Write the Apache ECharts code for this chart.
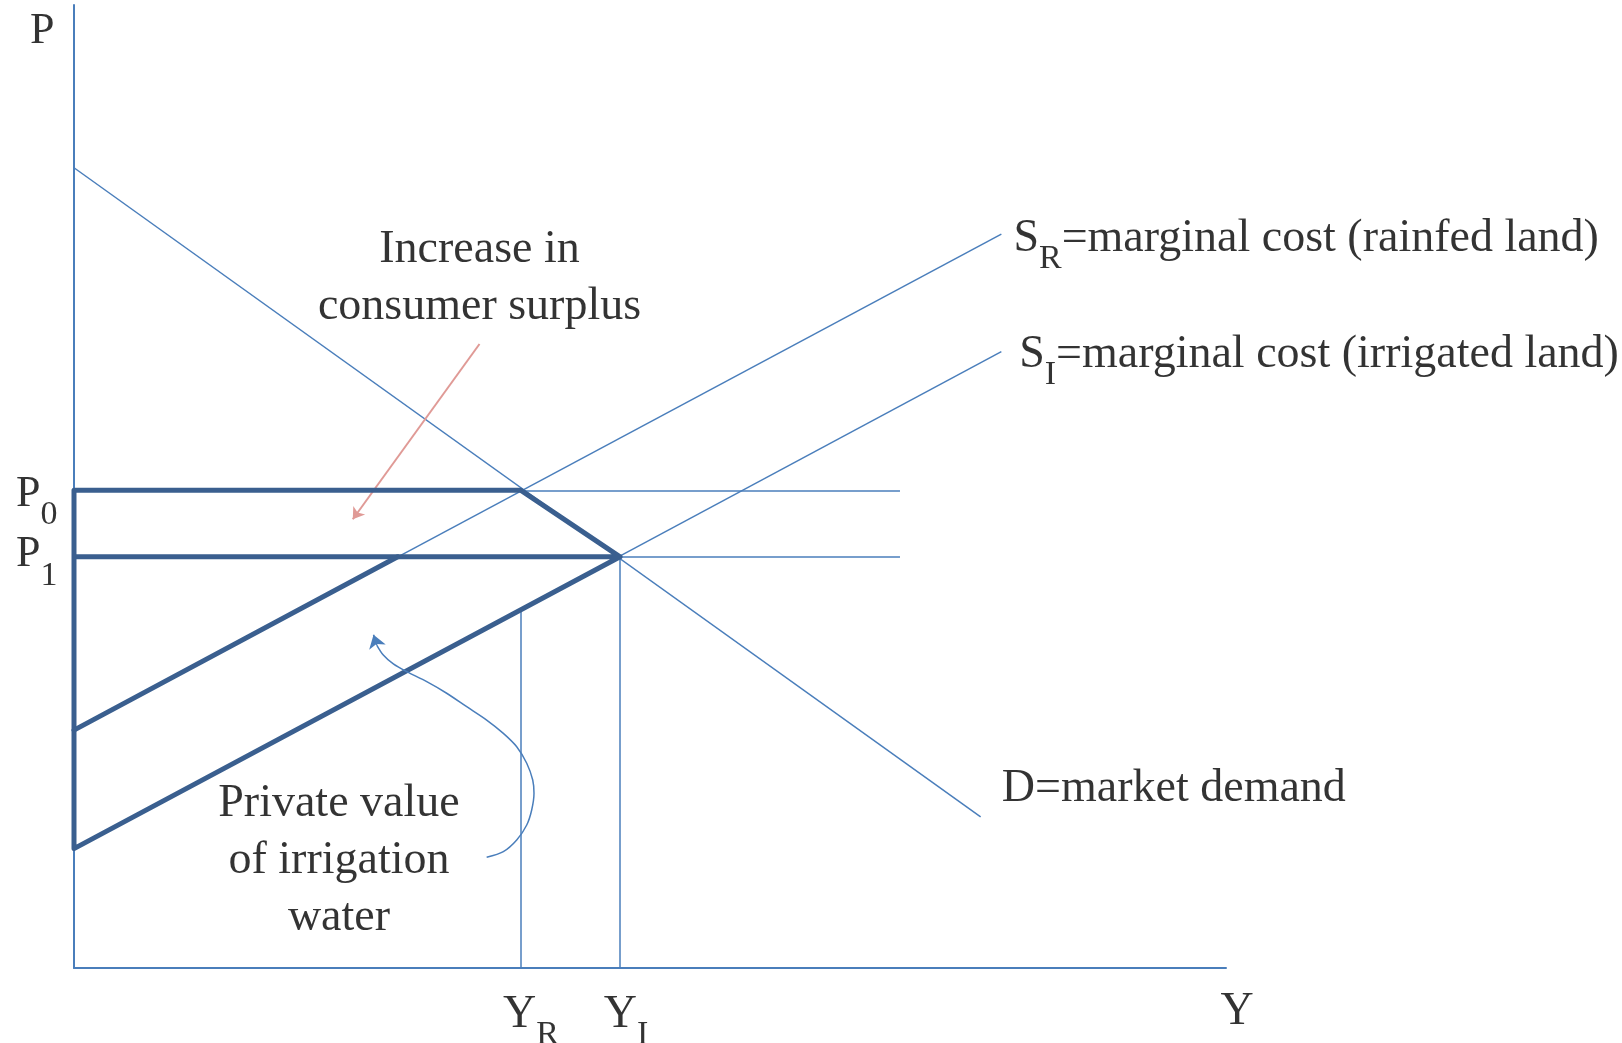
<!DOCTYPE html>
<html>
<head>
<meta charset="utf-8">
<script src="https://cdn.jsdelivr.net/npm/echarts@6/dist/echarts.min.js"></script>
<style>
  html, body { margin: 0; background: #fff; }
  #main { width: 1622px; height: 1043px; }
</style>
</head>
<body>
<div id="main"></div>
<script>
// values, x = quantity Y, y = price P, both on a 0..100 scale
const demand = [[0, 83.1], [78.7, 15.7]];
const supplyRainfed = [[0, 24.7], [80.5, 76.2]];
const supplyIrrigated = [[0, 12.4], [80.5, 64.0]];
const prices = [49.6, 42.7];          // P0, P1
const quantities = [38.8, 47.4];      // YR, YI
const priceLineEnd = 71.7;
const yrTop = 37.2;                   // S_I at YR
const srAtP1 = 28.1;                  // S_R crosses P1
const surplusArrow = [[35.2, 64.8], [24.2, 46.6]];
// traced path of the curved pointer
const waterCurve = [[35.82, 11.5], [37.27, 12.08], [38.43, 13.29], [39.3, 14.85], [39.73, 16.41],
  [39.93, 18.14], [39.82, 19.52], [39.3, 21.26], [38.43, 22.98], [37.27, 24.37], [35.82, 25.75],
  [34.09, 27.13], [32.35, 28.53], [30.62, 29.73], [28.88, 30.77], [27.72, 31.57], [26.85, 32.5],
  [26.28, 33.54]];
const waterArrowTip = [26.0, 34.6];

const thin = '#4a7ebb';
const thick = '#3a5f8f';
const font = 'Liberation Serif';

const rich = {
  m: { fontFamily: font, fontSize: 46, lineHeight: 46, verticalAlign: 'top', color: '#000' },
  s: { fontFamily: font, fontSize: 34, lineHeight: 34, padding: [26, 0, 0, 0], verticalAlign: 'top', color: '#000' },
  pm: { fontFamily: font, fontSize: 44, lineHeight: 44, verticalAlign: 'top', color: '#000' },
  ps: { fontFamily: font, fontSize: 34, lineHeight: 34, padding: [26, 0, 0, 0], verticalAlign: 'top', color: '#000' }
};

const P0 = prices[0], P1 = prices[1];
const YR = quantities[0], YI = quantities[1];

function seg(a, b) {
  return { coords: [a, b] };
}

function text(pos, str, label) {
  return {
    value: pos,
    label: Object.assign({
      show: true,
      formatter: str,
      rich: rich,
      fontFamily: font,
      fontSize: 46,
      color: '#000'
    }, label)
  };
}

const chart = echarts.init(document.getElementById('main'));

const option = {
  backgroundColor: '#fff',
  animation: false,
  grid: { left: 74, right: 396, top: 5, bottom: 75 },
  xAxis: {
    type: 'value', min: 0, max: 100,
    axisLine: { lineStyle: { color: thin, width: 2 } },
    axisTick: { show: false }, axisLabel: { show: false }, splitLine: { show: false }
  },
  yAxis: {
    type: 'value', min: 0, max: 100,
    axisLine: { show: true, lineStyle: { color: thin, width: 2 } },
    axisTick: { show: false }, axisLabel: { show: false }, splitLine: { show: false }
  },
  series: [
    {
      // thin guide lines
      type: 'lines',
      coordinateSystem: 'cartesian2d',
      silent: true,
      lineStyle: { color: thin, width: 1.5, opacity: 1 },
      data: [
        seg(demand[0], demand[1]),
        seg(supplyRainfed[0], supplyRainfed[1]),
        seg(supplyIrrigated[0], supplyIrrigated[1]),
        seg([0, P0], [priceLineEnd, P0]),
        seg([0, P1], [priceLineEnd, P1]),
        seg([YR, 0], [YR, yrTop]),
        seg([YI, 0], [YI, P1])
      ]
    },
    {
      // thick outline of the two areas
      type: 'line',
      silent: true,
      symbol: 'none',
      lineStyle: { color: thick, width: 5, join: 'round', cap: 'round' },
      data: [[0, P1], [YI, P1], [YR, P0], [0, P0], [0, supplyIrrigated[0][1]], [YI, P1]]
    },
    {
      type: 'line',
      silent: true,
      symbol: 'none',
      lineStyle: { color: thick, width: 5, cap: 'round' },
      data: [supplyRainfed[0], [srAtP1, P1]]
    },
    {
      type: 'lines',
      coordinateSystem: 'cartesian2d',
      silent: true,
      symbol: ['none', 'arrow'],
      symbolSize: 11,
      lineStyle: { color: '#e09a96', width: 2, opacity: 1 },
      data: [seg(surplusArrow[0], surplusArrow[1])]
    },
    {
      type: 'line',
      silent: true,
      symbol: 'none',
      smooth: 0.3,
      lineStyle: { color: thin, width: 1.5 },
      data: waterCurve
    },
    {
      type: 'lines',
      coordinateSystem: 'cartesian2d',
      silent: true,
      symbol: ['none', 'arrow'],
      symbolSize: 13,
      lineStyle: { color: thin, width: 1.5, opacity: 1 },
      data: [seg(waterCurve[waterCurve.length - 1], waterArrowTip)]
    },
    {
      type: 'scatter',
      silent: true,
      clip: false,
      symbolSize: 1,
      itemStyle: { color: 'rgba(0,0,0,0)' },
      data: [
        text([0, 100], 'P', { position: 'left', distance: 19, offset: [0, 26], fontSize: 44 }),
        text([100, 0], 'Y', { position: 'inside', offset: [11, 44] }),
        text([0, P0], '{pm|P}{ps|0}', { position: 'left', distance: 16, offset: [0, 4] }),
        text([0, P1], '{pm|P}{ps|1}', { position: 'left', distance: 16, offset: [0, -2] }),
        text([YR, 0], '{m|Y}{s|R}', { position: 'inside', offset: [10, 47] }),
        text([YI, 0], '{m|Y}{s|I}', { position: 'inside', offset: [6, 47] }),
        text([81.5, 75.7], '{m|S}{s|R}{m|=marginal cost (rainfed land)}', { position: 'right', distance: 0 }),
        text([82.0, 63.65], '{m|S}{s|I}{m|=marginal cost (irrigated land)}', { position: 'right', distance: 0 }),
        text([80.5, 18.6], 'D=market demand', { position: 'right', distance: 0 }),
        text([35.2, 71.6], 'Increase in\nconsumer surplus', { position: 'inside', lineHeight: 57, align: 'center' }),
        text([23.0, 11.1], 'Private value\nof irrigation\nwater', { position: 'inside', lineHeight: 57, align: 'center' })
      ]
    }
  ]
};

chart.setOption(option);
</script>
</body>
</html>
